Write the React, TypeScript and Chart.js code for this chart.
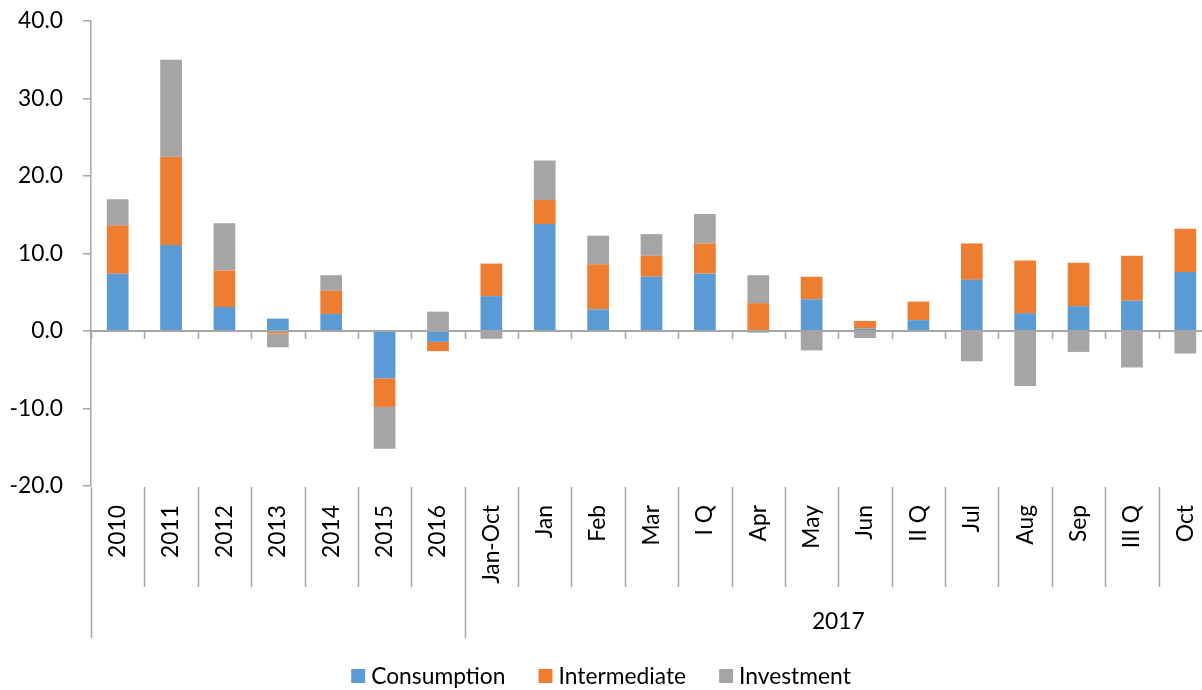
import React, { useEffect, useRef } from "react";
import { Chart, registerables } from "chart.js";

Chart.register(...registerables);

const categories = ["2010", "2011", "2012", "2013", "2014", "2015", "2016", "Jan-Oct", "Jan", "Feb", "Mar", "I Q", "Apr", "May", "Jun", "II Q", "Jul", "Aug", "Sep", "III Q", "Oct"];
const groupLabel = "2017";
const groupStart = 7;
const seriesNames = ["Consumption", "Intermediate", "Investment"];
const consumption = [7.4, 11.1, 3.1, 1.6, 2.2, -6.1, -1.4, 4.5, 13.8, 2.8, 7.0, 7.4, -0.2, 4.1, 0.3, 1.4, 6.6, 2.3, 3.2, 3.9, 7.6];
const intermediate = [6.2, 11.4, 4.7, -0.3, 3.0, -3.7, -1.2, 4.2, 3.1, 5.8, 2.7, 3.9, 3.6, 2.9, 1.0, 2.4, 4.7, 6.8, 5.6, 5.8, 5.6];
const investment = [3.4, 12.5, 6.1, -1.8, 2.0, -5.4, 2.5, -1.0, 5.1, 3.7, 2.8, 3.8, 3.6, -2.5, -0.9, 0.0, -3.9, -7.1, -2.7, -4.7, -2.9];
const yTicks = [-20, -10, 0, 10, 20, 30, 40];

const colors = ["#5B9BD5", "#ED7D31", "#A5A5A5"];
const FONT = "Lato";
const FSIZE = 22.8;
const TEXT = "#000000";
const AXIS = "#A6A6A6";

const decorPlugin = {
  id: "decor",
  afterDatasetsDraw(chart: any) {
    const { ctx, chartArea, scales } = chart;
    const x = scales.x;
    const y = scales.y;
    const cw = x.getPixelForValue(1) - x.getPixelForValue(0);
    const y0 = y.getPixelForValue(0);
    ctx.save();
    // zero line
    ctx.strokeStyle = AXIS;
    ctx.lineWidth = 2;
    ctx.beginPath();
    ctx.moveTo(chartArea.left, y0);
    ctx.lineTo(chartArea.right, y0);
    ctx.stroke();
    // tick marks on zero line and separators below
    ctx.lineWidth = 1.5;
    for (let i = 0; i <= categories.length; i++) {
      const bx = Math.round(x.getPixelForValue(0) - cw / 2 + i * cw) + 0.5;
      ctx.beginPath();
      ctx.moveTo(bx, y0);
      ctx.lineTo(bx, y0 + 8);
      ctx.stroke();
      const long = i === 0 || i === groupStart || i === categories.length;
      ctx.beginPath();
      ctx.moveTo(bx, chartArea.bottom + 1);
      ctx.lineTo(bx, chartArea.bottom + (long ? 152 : 101));
      ctx.stroke();
    }
    // group label
    ctx.fillStyle = TEXT;
    ctx.font = `${FSIZE}px ${FONT}`;
    ctx.textAlign = "center";
    ctx.textBaseline = "middle";
    const gl = x.getPixelForValue(groupStart) - cw / 2;
    const gr = x.getPixelForValue(categories.length - 1) + cw / 2;
    ctx.fillText(groupLabel, (gl + gr) / 2, chartArea.bottom + 136);
    // legend
    const box = 14;
    const gapText = 6;
    const gapItem = 33;
    const widths = seriesNames.map((n) => ctx.measureText(n).width);
    const total = widths.reduce((a, w) => a + box + gapText + w, 0) + gapItem * (seriesNames.length - 1);
    let lx = 601 - total / 2;
    const ly = 676;
    ctx.textAlign = "left";
    seriesNames.forEach((n, i) => {
      ctx.fillStyle = colors[i];
      ctx.fillRect(lx, ly - box / 2, box, box);
      lx += box + gapText;
      ctx.fillStyle = TEXT;
      ctx.fillText(n, lx, ly + 1);
      lx += widths[i] + gapItem;
    });
    ctx.restore();
  },
};

export default function App() {
  const ref = useRef<HTMLCanvasElement | null>(null);
  useEffect(() => {
    if (!ref.current) return;
    const datasets = [consumption, intermediate, investment].map((d, i) => ({
      label: seriesNames[i],
      data: d,
      backgroundColor: colors[i],
      borderWidth: 0,
      categoryPercentage: 1,
      barPercentage: 0.407,
    }));
    const chart = new Chart(ref.current, {
      type: "bar",
      data: { labels: categories, datasets },
      options: {
        animation: false,
        responsive: false,
        layout: { padding: { top: 21, left: 0, right: 0, bottom: 0 } },
        plugins: { legend: { display: false }, tooltip: { enabled: false } },
        scales: {
          x: {
            stacked: true,
            grid: { display: false, drawTicks: false },
            border: { display: false },
            ticks: {
              minRotation: 90,
              maxRotation: 90,
              autoSkip: false,
              padding: 19,
              color: TEXT,
              font: { family: FONT, size: FSIZE },
            },
            afterFit: (s: any) => {
              s.height = 204;
              s.paddingLeft = 0;
              s.paddingRight = 0;
            },
          },
          y: {
            stacked: true,
            min: -20,
            max: 40,
            afterBuildTicks: (s: any) => {
              s.ticks = yTicks.map((v) => ({ value: v }));
            },
            grid: { drawOnChartArea: false, drawTicks: true, tickLength: 8, color: AXIS, lineWidth: 1.5 },
            border: { display: true, color: AXIS, width: 1.5 },
            ticks: {
              padding: 20,
              color: TEXT,
              font: { family: FONT, size: FSIZE },
              callback: (v: any) => Number(v).toFixed(1),
            },
            afterFit: (s: any) => {
              s.width = 91;
              s.paddingTop = 0;
              s.paddingBottom = 0;
            },
          },
        },
      },
      plugins: [decorPlugin],
    });
    return () => chart.destroy();
  }, []);
  return (
    <div style={{ position: "fixed", left: 0, top: 0, width: 1202, height: 690, overflow: "hidden", background: "#fff" }}>
      <canvas ref={ref} width={1212} height={690} style={{ width: 1212, height: 690, display: "block" }} />
    </div>
  );
}
